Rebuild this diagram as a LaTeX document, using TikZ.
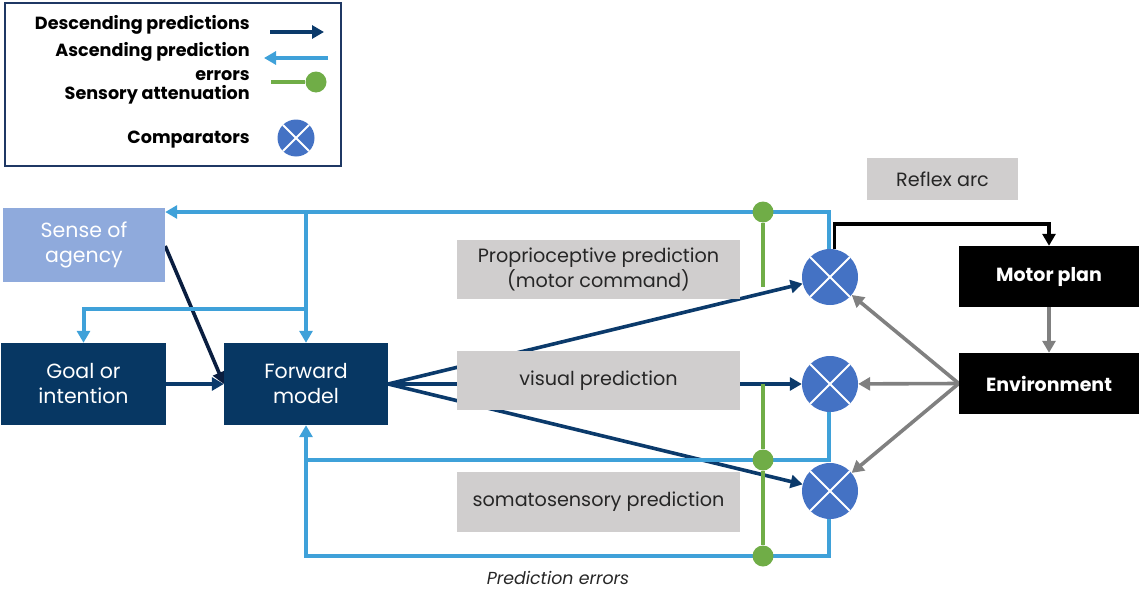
\documentclass[tikz,border=0pt]{standalone}
\usepackage{fontspec}
\setmainfont{Poppins}
\usetikzlibrary{arrows.meta,calc,backgrounds}

\definecolor{navy}{HTML}{073763}
\definecolor{navyline}{HTML}{0B3A6B}
\definecolor{darkline}{HTML}{0A1E40}
\definecolor{errblue}{HTML}{3FA1D9}
\definecolor{attgreen}{HTML}{70AD47}
\definecolor{boxgray}{HTML}{D0CECE}
\definecolor{agency}{HTML}{8FAADC}
\definecolor{compblue}{HTML}{4472C4}
\definecolor{envgray}{HTML}{808080}
\definecolor{legendframe}{HTML}{1F3864}
\definecolor{textdark}{HTML}{262626}

\tikzset{
  tip/.style={-{Triangle[length=12pt,width=13pt]}},
  navybox/.style={rectangle, fill=navy, text=white, align=center, inner sep=0pt,
    font=\fontsize{20.5}{25}\selectfont},
  agencybox/.style={navybox, fill=agency},
  graybox/.style={rectangle, fill=boxgray, text=textdark, align=center, inner sep=0pt,
    font=\fontsize{19.2}{25}\selectfont},
  blackbox/.style={rectangle, fill=black, text=white, align=center, inner sep=0pt,
    font=\bfseries\fontsize{19}{24}\selectfont, minimum width=180pt, minimum height=61pt},
  comp/.style={circle, fill=compblue, minimum size=56pt, inner sep=0pt,
    path picture={\draw[white, line width=1.8pt]
      (path picture bounding box.north west) -- (path picture bounding box.south east)
      (path picture bounding box.north east) -- (path picture bounding box.south west);}},
  pred/.style={draw=navyline, line width=3.6pt, tip},
  err/.style={draw=errblue, line width=4pt},
  errtip/.style={err, tip},
  atten/.style={draw=attgreen, line width=3.6pt},
  attdot/.style={circle, fill=attgreen, minimum size=21pt, inner sep=0pt},
  env/.style={draw=envgray, line width=3.6pt, tip},
  legendtext/.style={anchor=east, align=right, inner sep=0pt,
    font=\bfseries\fontsize{17.6}{24}\selectfont},
}

\begin{document}
\begin{tikzpicture}[x=1pt, y=-1pt]
\useasboundingbox (0,0) rectangle (1140,589);

% ---------- legend ----------
\node[draw=legendframe, line width=1.6pt, minimum width=336pt, minimum height=163pt,
  inner sep=0pt] (legend) at (173,84.5) {};
\node[legendtext] (lgdesc) at (250,24.5) {Descending predictions};
\node[legendtext] (lgasc) at (250,61.5) {Ascending prediction\\errors};
\node[legendtext] (lgatt) at (250,94.5) {Sensory attenuation};
\node[legendtext] (lgcomp) at (250,139.5) {Comparators};
\coordinate (ld1) at (270,32);  \coordinate (ld2) at (324,32);
\coordinate (la1) at (328,58);  \coordinate (la2) at (264,58);
\coordinate (lg1) at (271,82);
\node[attdot] (lgdot) at (316,82) {};
\node[comp, minimum size=37pt] (lgc) at (296,138) {};
\draw[pred] (ld1) -- (ld2);
\draw[errtip] (la1) -- (la2);
\draw[atten] (lg1) -- (lgdot);

% ---------- boxes ----------
\node[agencybox, minimum width=162pt, minimum height=74pt] (agency) at (84,245)
  {\raisebox{-2pt}{Sense of}\\\raisebox{-2pt}{agency}};
\node[navybox, minimum width=165pt, minimum height=82pt] (goal) at (83.5,384)
  {\raisebox{-2pt}{Goal or}\\\raisebox{-2pt}{intention}};
\node[navybox, minimum width=164pt, minimum height=82pt] (fwd) at (306,384)
  {\raisebox{-2pt}{Forward}\\\raisebox{-2pt}{model}};

\node[comp] (c1) at (830,277) {};
\node[comp] (c2) at (830,384) {};
\node[comp] (c3) at (830,491) {};

\node[blackbox] (motor) at (1049,276.5) {\raisebox{-2pt}{Motor plan}};
\node[blackbox] (envn) at (1049,383.5) {\raisebox{-2pt}{Environment}};

\node[graybox, minimum width=283pt, minimum height=59pt] (prop) at (598.5,269.5)
  {\raisebox{-2pt}{Proprioceptive prediction}\\\raisebox{-2pt}{(motor command)}};
\node[graybox, minimum width=283pt, minimum height=59pt] (vis) at (598.5,380.5)
  {\raisebox{-2pt}{visual prediction}};
\node[graybox, minimum width=283pt, minimum height=60pt] (soma) at (598.5,502)
  {\raisebox{-2pt}{somatosensory prediction}};
\node[graybox, minimum width=151pt, minimum height=42pt] (reflex) at (942.5,179)
  {\raisebox{-2pt}{Reflex arc}};

\node[font=\itshape\fontsize{17.4}{20}\selectfont, text=textdark, inner sep=0pt] (perr) at (558,578)
  {Prediction errors};

% ---------- connectors (behind the boxes) ----------
\coordinate (ytop) at (0,212);
\coordinate (ygoal) at (0,309);
\coordinate (yblack) at (0,224);
\coordinate (ymid) at (0,460);
\coordinate (ybot) at (0,556);
\coordinate (c1b) at ([xshift=-1pt]c1.north);
\coordinate (c1k) at ([xshift=4.5pt]c1.north);
\coordinate (c2b) at ([xshift=-1pt]c2.south);
\coordinate (c3b) at ([xshift=-1pt]c3.south);
\coordinate (gx) at (763,0);

\begin{scope}[on background layer]
  % descending predictions
  \draw[pred] (fwd.east) -- (c1);
  \draw[pred] (fwd.east) -- (c2);
  \draw[pred] (fwd.east) -- (c3);
  \draw[pred] (goal.east) -- (fwd.west);
  \draw[draw=darkline, line width=3.6pt, tip] (agency.east |- 0,246) -- (fwd.west);

  % ascending prediction errors
  \draw[errtip] (c1b) |- (agency.east |- ytop);
  \draw[errtip] (fwd.north |- ytop) -- (fwd.north);
  \draw[errtip] (fwd.north |- ygoal) -| (goal.north);
  \draw[err] (c2b) |- (fwd.south |- ymid);
  \draw[errtip] (c3b) |- (fwd.south |- ybot) -- (fwd.south);

  % reflex arc
  \draw[draw=black, line width=3.4pt, tip] (c1k) |- (motor.north |- yblack) -- (motor.north);

  % environment feedback
  \draw[env] (motor.south) -- (envn.north);
  \draw[env] (envn.west) -- (c1);
  \draw[env] (envn.west) -- (c2);
  \draw[env] (envn.west) -- (c3);
\end{scope}

% ---------- sensory attenuation ----------
\node[attdot] (g1) at (gx |- ytop) {};
\node[attdot] (g2) at (gx |- ymid) {};
\node[attdot] (g3) at (gx |- ybot) {};
\draw[atten] (g1) -- (gx |- 0,287);
\draw[atten] (gx |- 0,384) -- (g2) -- (g3);
\end{tikzpicture}
\end{document}
